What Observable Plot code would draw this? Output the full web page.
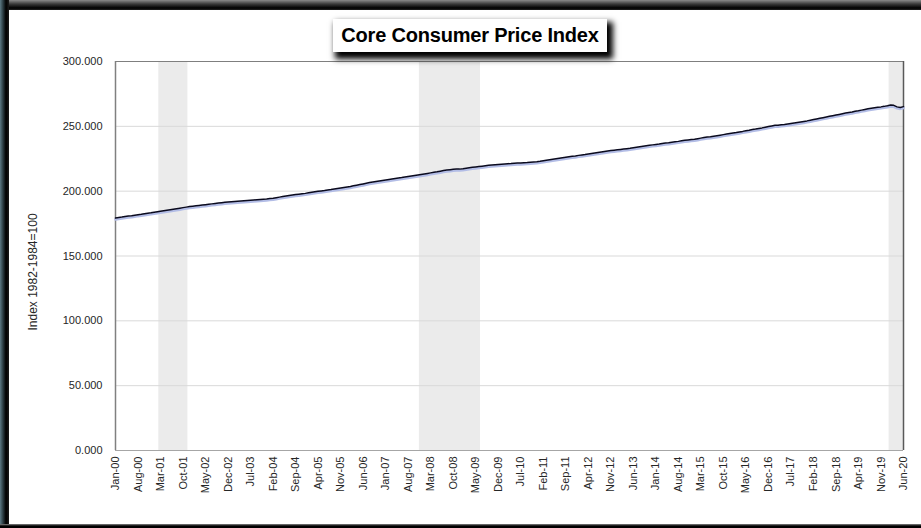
<!DOCTYPE html>
<html><head><meta charset="utf-8">
<script src="https://cdn.jsdelivr.net/npm/d3@7"></script>
<script src="https://cdn.jsdelivr.net/npm/@observablehq/plot@0.6"></script>
<style>
body{margin:0;background:#fff;}
#wrap{position:relative;width:921px;height:528px;overflow:hidden;font-family:"Liberation Sans",Arial,sans-serif;background:#fff;}
#chart{position:absolute;left:0;top:0;}
.bt{position:absolute;left:0;top:0;width:921px;height:10px;background:linear-gradient(to bottom,#8a8a8a 0px,#3a3a3a 4px,#000 8px,#222 10px);}
.bl{position:absolute;left:0;top:0;width:9px;height:528px;background:linear-gradient(to right,#5d7a85 0px,#2b3c42 3px,#000 6px,#1a1a1a 9px);}
.bb{position:absolute;left:0;top:524px;width:921px;height:4px;background:linear-gradient(to bottom,#888 0px,#000 2px,#000 4px);}
#title{position:absolute;left:333px;top:19px;width:274px;height:33px;background:#fff;box-shadow:4px 5px 6px 2px #000;font-weight:bold;font-size:20px;line-height:33px;text-align:center;color:#000;letter-spacing:-0.2px;}
#ylab{position:absolute;left:33px;top:272px;transform:translate(-50%,-50%) rotate(-90deg);font-size:12px;color:#262626;white-space:nowrap;}
</style></head><body>
<div id="wrap"><div id="chart"></div>
<div class="bt"></div><div class="bl"></div><div class="bb"></div>
<div id="title">Core Consumer Price Index</div>
<div id="ylab">Index 1982-1984=100</div>
</div>
<script>
// Monthly core CPI, Jan 2000 .. Jun 2020
const startYear = 2000;
const coreCPI = [
179.3,179.7,180.0,180.4,180.8,181.1,181.5,181.9,182.2,182.6,183.0,183.3,
183.7,184.1,184.5,184.9,185.3,185.7,186.1,186.5,186.9,187.3,187.7,188.1,
188.4,188.7,189.0,189.3,189.6,189.9,190.2,190.5,190.8,191.1,191.4,191.6,
191.8,192.0,192.2,192.4,192.6,192.8,193.0,193.2,193.4,193.6,193.8,194.0,
194.3,194.6,195.0,195.4,195.8,196.2,196.6,197.0,197.4,197.7,198.0,198.3,
198.7,199.1,199.5,199.9,200.2,200.5,200.9,201.2,201.6,202.0,202.4,202.8,
203.2,203.6,204.1,204.6,205.1,205.6,206.1,206.6,207.0,207.4,207.8,208.2,
208.6,209.0,209.4,209.8,210.2,210.5,210.9,211.3,211.7,212.1,212.5,212.9,
213.3,213.7,214.1,214.5,214.9,215.4,215.9,216.3,216.6,216.9,217.0,217.0,
217.3,217.7,218.1,218.4,218.7,219.0,219.3,219.6,219.9,220.2,220.4,220.6,
220.8,221.0,221.2,221.3,221.5,221.7,221.8,222.0,222.1,222.3,222.5,222.7,
223.0,223.4,223.8,224.2,224.6,225.0,225.4,225.8,226.2,226.6,226.9,227.2,
227.6,227.9,228.2,228.6,229.0,229.4,229.8,230.2,230.6,231.0,231.3,231.6,
231.9,232.2,232.5,232.8,233.1,233.5,233.9,234.3,234.7,235.1,235.4,235.7,
236.0,236.3,236.7,237.1,237.4,237.8,238.1,238.4,238.8,239.2,239.5,239.8,
240.1,240.5,240.9,241.3,241.7,242.0,242.4,242.8,243.2,243.6,244.0,244.4,
244.8,245.2,245.7,246.1,246.6,247.0,247.5,247.9,248.4,248.8,249.3,249.8,
250.3,250.8,250.8,251.2,251.4,251.8,252.2,252.6,253.0,253.4,253.8,254.2,
254.7,255.2,255.7,256.2,256.7,257.2,257.7,258.2,258.7,259.2,259.7,260.2,
260.7,261.1,261.6,262.0,262.5,263.0,263.5,263.9,264.3,264.7,265.0,265.4,
265.9,266.5,266.2,265.0,264.6,265.2
];
// Recessions: [first month, last month] as "YYYY-MM"
const recessionStarts = ["2001-03","2007-12","2020-02"];
const recessionEnds   = ["2001-11","2009-06","2020-06"];
const yTickValues = [0,50,100,150,200,250,300];
const xTickStep = 7; // months between category labels

const d0 = new Date(Date.UTC(startYear,0,1));
const monthDate = i => d3.utcMonth.offset(d0, i);
const dEnd = monthDate(coreCPI.length - 1);
const data = coreCPI.map((v,i)=>({date: monthDate(i), value: v}));
const xTicks = d3.range(0, coreCPI.length, xTickStep).map(monthDate);

const parseM = s => { const [y,m] = s.split("-").map(Number); return new Date(Date.UTC(y,m-1,1)); };
const halfMonth = d => new Date(+d - 15.2*864e5);
const halfMonthUp = d => new Date(+d + 15.2*864e5);
const clamp = d => new Date(Math.min(+dEnd, Math.max(+d0, +d)));
const recessions = recessionStarts.map((s,i)=>({
  x1: clamp(halfMonth(parseM(s))),
  x2: clamp(halfMonthUp(parseM(recessionEnds[i])))
}));

const plot = Plot.plot({
  width: 921, height: 528,
  marginLeft: 115, marginRight: 18, marginTop: 61, marginBottom: 78,
  style: {fontFamily: '"Liberation Sans", Arial, sans-serif', fontSize: "11px", color: "#262626", background: "transparent"},
  x: {type: "utc", domain: [d0, dEnd], label: null},
  y: {domain: [0,300], label: null},
  marks: [
    Plot.rect(recessions, {x1: "x1", x2: "x2", y1: 0, y2: 300, fill: "#ebebeb"}),
    Plot.ruleY(yTickValues.filter(v => v > 0 && v < 300), {stroke: "#d9d9d9", strokeWidth: 1}),
    Plot.ruleY([0], {stroke: "#a6a6a6", strokeWidth: 1.2}),
    Plot.ruleY([300], {stroke: "#7f7f7f", strokeWidth: 1.2}),
    Plot.ruleX([d0], {stroke: "#808080", strokeWidth: 1.5}),
    Plot.ruleX([dEnd], {stroke: "#595959", strokeWidth: 1.5}),
    Plot.line(data, {x: "date", y: "value", stroke: "#b3bde6", strokeWidth: 2.5, dy: 1.5}),
    Plot.line(data, {x: "date", y: "value", stroke: "#0a0a1e", strokeWidth: 1.5}),
    Plot.axisX({ticks: xTicks, tickFormat: d3.utcFormat("%b-%y"), tickRotate: -90, tickSize: 0, tickPadding: 6, fontSize: 11, fill: "#262626"}),
    Plot.axisY({ticks: yTickValues, tickFormat: d => d.toFixed(3), tickSize: 0, tickPadding: 13, fontSize: 11, fill: "#262626"})
  ]
});
document.getElementById("chart").appendChild(plot);
</script>
</body></html>
